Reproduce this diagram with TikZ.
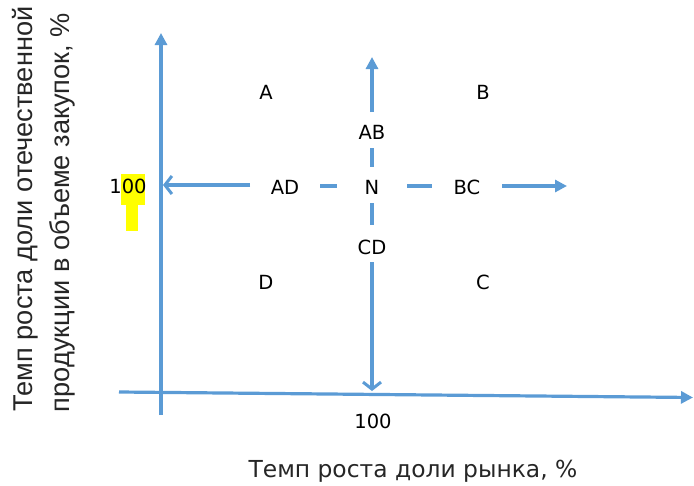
\documentclass[tikz,border=0pt]{standalone}
\usepackage{fontspec}
\usetikzlibrary{arrows.meta}
\newfontfamily\tahfont{DejaVu Sans}
\newfontfamily\arlfont{Liberation Sans}
\definecolor{axblue}{RGB}{91,155,213}
\definecolor{hlyellow}{RGB}{255,255,0}
\tikzset{
  axline/.style={draw=axblue, line width=3.2pt},
  tri/.style={-{Triangle[length=12pt,width=12pt]}},
  barb/.style={-{Straight Barb[length=7pt,width=18pt,line width=3pt]}},
  lbl/.style={font=\tahfont\fontsize{19.5}{22}\selectfont, text=black, inner sep=0pt},
  axlbl/.style={font=\tahfont\fontsize{23.4}{27}\selectfont, text=black!85, inner sep=0pt},
  ylbl/.style={font=\arlfont\fontsize{27.2}{32}\selectfont, text=black!85, inner sep=0pt, rotate=90, anchor=base}
}
\begin{document}
\begin{tikzpicture}[x=1pt,y=-1pt]
\useasboundingbox (0,0) rectangle (694,485);
% highlight
\fill[hlyellow] (121,174) rectangle (145,205);
\fill[hlyellow] (126,205) rectangle (138,231);
% axes
\coordinate (yb) at (161,415);
\coordinate (yt) at (161,33);
\coordinate (xl) at (119,392);
\coordinate (xr) at (693,397.5);
\draw[axline,tri] (yb) -- (yt);
\draw[axline,tri] (xl) -- (xr);
% labels
\node[lbl] (A) at (266,92) {A};
\node[lbl] (B) at (483,92) {B};
\node[lbl] (AB) at (372,132) {AB};
\node[lbl] (AD) at (285,187) {AD};
\node[lbl] (N) at (372,187) {N};
\node[lbl] (BC) at (467,187) {BC};
\node[lbl] (CD) at (372,247) {CD};
\node[lbl] (D) at (266,282) {D};
\node[lbl] (C) at (483,282) {C};
\node[lbl] (y100) at (128,186) {100};
\node[lbl] (x100) at (373,421) {100};
\node[axlbl] (xlab) at (413,471) {Темп роста доли рынка, \%};
\node[ylbl] (ylab1) at (32,209) {Темп роста доли отечественной};
\node[ylbl] (ylab2) at (69,212.5) {продукции в объеме закупок, \%};
% center cross
\coordinate (ls) at (250,185);
\coordinate (le) at (163,185);
\draw[axline,barb] (ls) -- (le);
\coordinate (d1a) at (320,186); \coordinate (d1b) at (337,186);
\draw[axline] (d1a) -- (d1b);
\coordinate (d2a) at (407,186); \coordinate (d2b) at (432,186);
\draw[axline] (d2a) -- (d2b);
\coordinate (rs) at (502,186); \coordinate (re) at (567,186);
\draw[axline,tri] (rs) -- (re);
\coordinate (us) at (372,112); \coordinate (ue) at (372,57);
\draw[axline,tri] (us) -- (ue);
\coordinate (d3a) at (372,148); \coordinate (d3b) at (372,167);
\draw[axline] (d3a) -- (d3b);
\coordinate (d4a) at (372,203); \coordinate (d4b) at (372,225);
\draw[axline] (d4a) -- (d4b);
\coordinate (bs) at (372,262); \coordinate (be) at (372,391);
\draw[axline,barb] (bs) -- (be);
\end{tikzpicture}
\end{document}
